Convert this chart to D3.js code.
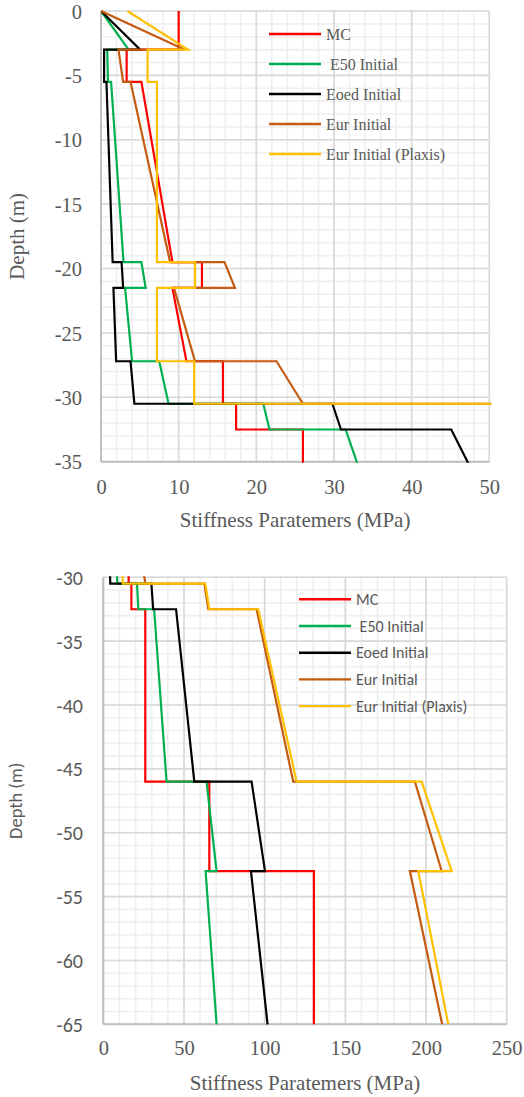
<!DOCTYPE html>
<html>
<head>
<meta charset="utf-8">
<script src="https://cdn.jsdelivr.net/npm/d3@7"></script>
<style>
  html, body { margin: 0; padding: 0; background: #fff; }
  svg { display: block; }
</style>
</head>
<body>
<svg id="chart" width="524" height="1097"></svg>
<script>
// Stiffness profiles over depth: each series is a list of [stiffness (MPa), depth (m)]
const seriesNames = ["MC", " E50 Initial", "Eoed Initial", "Eur Initial", "Eur Initial (Plaxis)"];
const seriesColors = ["#ff0000", "#00b050", "#000000", "#c55a11", "#ffc000"];

const mcProfile = [[10,0],[10,-3],[3.3,-3],[3.3,-5.5],[5.2,-5.5],[9.2,-19.5],[13,-19.5],[13,-21.5],[9.2,-21.5],
  [11,-27.2],[15.7,-27.2],[15.7,-30.5],[17.4,-30.5],[17.4,-32.5],[26,-32.5],[26,-46],[65.7,-46],[65.7,-53],
  [130.5,-53],[130.5,-65]];
const e50Profile = [[0,0],[3.55,-3],[0.8,-3],[0.9,-5.5],[1.3,-5.5],[2.9,-19.5],[5.2,-19.5],[5.75,-21.5],[3.1,-21.5],
  [4.0,-27.2],[7.5,-27.2],[8.7,-30.5],[20.9,-30.5],[21.7,-32.5],[31.5,-32.5],[39.2,-46],[64.0,-46],[70.2,-53],
  [63.4,-53],[70.2,-65]];
const eoedProfile = [[0,0],[5.05,-3],[0.4,-3],[0.4,-5.5],[0.7,-5.5],[1.5,-19.5],[2.65,-19.5],[2.85,-21.5],[1.6,-21.5],
  [1.95,-27.2],[3.8,-27.2],[4.3,-30.5],[29.8,-30.5],[30.9,-32.5],[45.1,-32.5],[56.4,-46],[91.9,-46],[100.2,-53],
  [91.5,-53],[101.8,-65]];
const eurProfile = [[0,0],[10.8,-3],[2.25,-3],[2.85,-5.5],[3.8,-5.5],[8.9,-19.5],[15.9,-19.5],[17.25,-21.5],[9.4,-21.5],
  [12.1,-27.2],[22.6,-27.2],[26,-30.5],[62.6,-30.5],[65.1,-32.5],[95,-32.5],[117.7,-46],[193.1,-46],[209.7,-53],
  [190,-53],[210,-65]];
const eurPlaxisProfile = [[3.4,0],[11.2,-3],[6.0,-3],[6.0,-5.5],[7.2,-5.5],[7.2,-19.5],[12.1,-19.5],[12.1,-21.5],[7.2,-21.5],
  [7.2,-27.2],[12.0,-27.2],[12.0,-30.5],[63.2,-30.5],[65.7,-32.5],[96,-32.5],[119.8,-46],[197.3,-46],[215.9,-53],
  [195.2,-53],[213.8,-65]];

const profiles = [mcProfile, e50Profile, eoedProfile, eurProfile, eurPlaxisProfile];

// Tick values for the two depth windows
const topXTicks = [0, 10, 20, 30, 40, 50];
const topYTicks = [0, -5, -10, -15, -20, -25, -30, -35];
const bottomXTicks = [0, 50, 100, 150, 200, 250];
const bottomYTicks = [-30, -35, -40, -45, -50, -55, -60, -65];

const xTitle = "Stiffness Paratemers (MPa)";
const yTitle = "Depth (m)";

const SERIF = '"Liberation Serif"';
const SANS = '"Carlito"';
const textColor = "#595959";
const plain = d => String(d);   // keeps the ASCII hyphen for negative depths

const svg = d3.select("#chart");
svg.append("rect").attr("width", 524).attr("height", 1097).attr("fill", "#fff");

function drawPanel(cfg) {
  const x = d3.scaleLinear().domain(cfg.xDomain).range([cfg.left, cfg.right]);
  const y = d3.scaleLinear().domain(cfg.yDomain).range([cfg.bottom, cfg.top]);
  const g = svg.append("g");

  // minor grid
  const xMinor = d3.range(cfg.xDomain[0], cfg.xDomain[1] + 1e-9, cfg.xMinor);
  const yMinor = d3.range(cfg.yDomain[0], cfg.yDomain[1] + 1e-9, cfg.yMinor);
  g.append("g").selectAll("line").data(xMinor).join("line")
    .attr("x1", d => x(d)).attr("x2", d => x(d)).attr("y1", cfg.top).attr("y2", cfg.bottom)
    .attr("stroke", "#efefef").attr("stroke-width", 1.6);
  g.append("g").selectAll("line").data(yMinor).join("line")
    .attr("y1", d => y(d)).attr("y2", d => y(d)).attr("x1", cfg.left).attr("x2", cfg.right)
    .attr("stroke", "#efefef").attr("stroke-width", 1.6);
  // major grid
  g.append("g").selectAll("line").data(cfg.xTicks).join("line")
    .attr("x1", d => x(d)).attr("x2", d => x(d)).attr("y1", cfg.top).attr("y2", cfg.bottom)
    .attr("stroke", "#d9d9d9").attr("stroke-width", 1.6);
  g.append("g").selectAll("line").data(cfg.yTicks).join("line")
    .attr("y1", d => y(d)).attr("y2", d => y(d)).attr("x1", cfg.left).attr("x2", cfg.right)
    .attr("stroke", "#d9d9d9").attr("stroke-width", 1.6);
  // axis lines
  g.append("line").attr("x1", cfg.left).attr("x2", cfg.left).attr("y1", cfg.top).attr("y2", cfg.bottom)
    .attr("stroke", "#bfbfbf").attr("stroke-width", 2);
  g.append("line").attr("x1", cfg.left).attr("x2", cfg.right).attr("y1", cfg.bottom).attr("y2", cfg.bottom)
    .attr("stroke", "#bfbfbf").attr("stroke-width", 2);

  // series, clipped to the plot area
  const clipId = "clip-" + cfg.id;
  svg.append("clipPath").attr("id", clipId).append("rect")
    .attr("x", cfg.left).attr("y", cfg.top - 1).attr("width", cfg.right - cfg.left + 2).attr("height", cfg.bottom - cfg.top + 2);
  const line = d3.line().x(d => x(d[0])).y(d => y(d[1]));
  g.append("g").attr("clip-path", `url(#${clipId})`)
    .selectAll("path").data(profiles).join("path")
    .attr("d", line)
    .attr("fill", "none")
    .attr("stroke", (d, i) => seriesColors[i])
    .attr("stroke-width", 2.2)
    .attr("stroke-linejoin", "miter");

  // axes (labels only)
  const xAxis = d3.axisBottom(x).tickValues(cfg.xTicks).tickSize(0).tickPadding(0).tickFormat(plain);
  const xg = g.append("g").attr("transform", `translate(0,${cfg.xLabelY})`).call(xAxis);
  xg.select(".domain").remove();
  xg.selectAll("text").attr("dy", 0).attr("fill", textColor)
    .style("font-family", cfg.xFont).style("font-size", cfg.xFontSize + "px");

  const yAxis = d3.axisLeft(y).tickValues(cfg.yTicks).tickSize(0).tickPadding(0).tickFormat(plain);
  const yg = g.append("g").attr("transform", `translate(${cfg.yLabelX},0)`).call(yAxis);
  yg.select(".domain").remove();
  yg.selectAll("text").attr("dy", "0.35em").attr("fill", textColor)
    .style("font-family", cfg.yFont).style("font-size", cfg.yFontSize + "px");

  // titles
  g.append("text").attr("x", (cfg.left + cfg.right) / 2).attr("y", cfg.xTitleY)
    .attr("text-anchor", "middle").attr("fill", textColor)
    .style("font-family", SERIF).style("font-size", "21px").text(xTitle);
  g.append("text")
    .attr("transform", `translate(${cfg.yTitleX},${(cfg.top + cfg.bottom) / 2}) rotate(-90)`)
    .attr("text-anchor", "middle").attr("dy", "0.35em").attr("fill", textColor)
    .style("font-family", cfg.yTitleFont).style("font-size", cfg.yTitleSize + "px").text(yTitle);

  // legend
  const rows = g.append("g").selectAll("g").data(seriesNames).join("g")
    .attr("transform", (d, i) => `translate(0,${cfg.legendY + i * cfg.legendStep})`);
  rows.append("line").attr("x1", cfg.legendX).attr("x2", cfg.legendX + 52)
    .attr("stroke", (d, i) => seriesColors[i]).attr("stroke-width", 2.4);
  rows.append("text").attr("x", cfg.legendX + 57).attr("dy", "0.35em").attr("fill", textColor)
    .style("font-family", cfg.legendFont).style("font-size", cfg.legendSize + "px")
    .style("white-space", "pre")
    .text(d => d);
}

drawPanel({
  id: "top", xDomain: [0, 50], yDomain: [-35, 0],
  left: 101, right: 489.3, top: 11, bottom: 461.7,
  xMinor: 2, yMinor: 1, xTicks: topXTicks, yTicks: topYTicks,
  xLabelY: 494, xFont: SERIF, xFontSize: 20.5,
  yLabelX: 82, yFont: SERIF, yFontSize: 20.5,
  xTitleY: 527, yTitleX: 17, yTitleFont: SERIF, yTitleSize: 21,
  legendX: 269, legendY: 34, legendStep: 30, legendFont: SERIF, legendSize: 16
});

drawPanel({
  id: "bottom", xDomain: [0, 250], yDomain: [-65, -30],
  left: 103.3, right: 506.7, top: 577.3, bottom: 1024.3,
  xMinor: 10, yMinor: 1, xTicks: bottomXTicks, yTicks: bottomYTicks,
  xLabelY: 1055, xFont: SERIF, xFontSize: 20.5,
  yLabelX: 83, yFont: SANS, yFontSize: 20,
  xTitleY: 1090, yTitleX: 16, yTitleFont: SANS, yTitleSize: 18.5,
  legendX: 299, legendY: 599.3, legendStep: 26.7, legendFont: SANS, legendSize: 16
});
</script>
</body>
</html>
